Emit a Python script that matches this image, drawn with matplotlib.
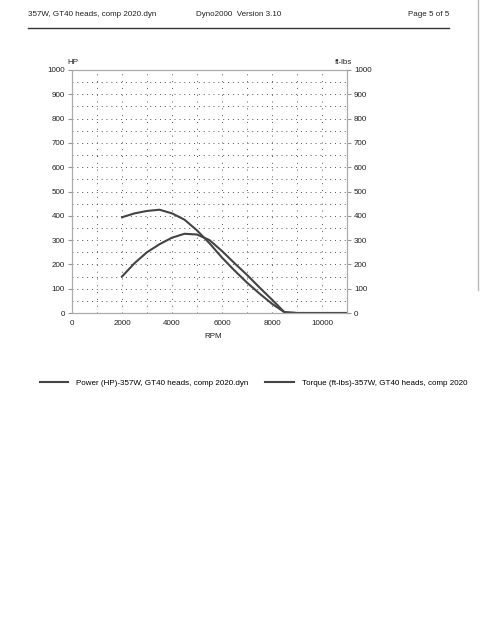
import matplotlib
matplotlib.use("Agg")
import matplotlib.pyplot as plt
from matplotlib.lines import Line2D

rpm = [2000, 2500, 3000, 3500, 4000, 4500, 5000, 5500, 6000, 6500, 7000,
       7500, 8000, 8500, 9000, 9500, 10000, 10500, 11000]
power_hp = [150, 205, 250, 283, 310, 326, 323, 300, 255, 205, 157,
            105, 55, 3, 0, 0, 0, 0, 0]
torque_ftlbs = [394, 410, 420, 425, 410, 384, 340, 287, 228, 175, 125,
                80, 38, 3, 0, 0, 0, 0, 0]

x_ticks = [0, 2000, 4000, 6000, 8000, 10000]
y_ticks = list(range(0, 1001, 100))

header_left = "357W, GT40 heads, comp 2020.dyn"
header_mid = "Dyno2000  Version 3.10"
header_right = "Page 5 of 5"
label_power = "Power (HP)-357W, GT40 heads, comp 2020.dyn"
label_torque = "Torque (ft-lbs)-357W, GT40 heads, comp 2020"

plt.rcParams['font.family'] = ['Liberation Sans', 'DejaVu Sans']
FS = 5.8
W, H = 480, 621
fig = plt.figure(figsize=(W / 100, H / 100), dpi=100)
fig.patch.set_facecolor('white')

def fx(px):
    return px / W

def fy(py):
    return 1 - py / H

# header
fig.text(fx(28), fy(14), header_left, fontsize=FS, va='center', ha='left', color='#222')
fig.text(fx(196), fy(14), header_mid, fontsize=FS, va='center', ha='left', color='#222')
fig.text(fx(449), fy(14), header_right, fontsize=FS, va='center', ha='right', color='#222')
fig.add_artist(Line2D([fx(28), fx(449)], [fy(28), fy(28)], color='#333', lw=1.0))
# scan edge
fig.add_artist(Line2D([fx(478), fx(478)], [fy(0), fy(290)], color='#bbb', lw=1.0))

ax = fig.add_axes([fx(72), fy(313), fx(347) - fx(72), fy(70) - fy(313)])
line_color = '#444444'
lp, = ax.plot(rpm, power_hp, color=line_color, lw=1.5, label=label_power)
lt, = ax.plot(rpm, torque_ftlbs, color=line_color, lw=1.5, label=label_torque)

ax.set_xlim(0, 11000)
ax.set_ylim(0, 1000)
ax.set_xticks(x_ticks)
ax.set_xticks(list(range(1000, 11000, 1000)), minor=True)
ax.set_yticks(y_ticks)
ax.set_yticks(list(range(50, 1000, 100)), minor=True)
ax.tick_params(axis='x', which='both', length=0, labelsize=FS, pad=5, labelcolor='#222')
ax.tick_params(axis='y', which='major', length=3, color='#999', labelsize=FS, pad=2, labelcolor='#222')
ax.tick_params(axis='y', which='minor', length=0)
ax.grid(True, which='both', axis='x', color='#555', lw=0.7, linestyle=(0, (1, 6)))
ax.grid(True, which='both', axis='y', color='#555', lw=0.7, linestyle=(0, (1, 4)))
for s in ax.spines.values():
    s.set_color('#aaaaaa')
    s.set_linewidth(0.8)

ax2 = ax.twinx()
ax2.set_ylim(0, 1000)
ax2.set_yticks(y_ticks)
ax2.tick_params(axis='y', length=3, color='#999', labelsize=FS, pad=2, labelcolor='#222')
for s in ax2.spines.values():
    s.set_color('#aaaaaa')
    s.set_linewidth(0.8)

fig.text(fx(73), fy(62), "HP", fontsize=FS, ha='center', va='center', color='#222')
fig.text(fx(344), fy(62), "ft-lbs", fontsize=FS, ha='center', va='center', color='#222')
fig.text(fx(213), fy(337), "RPM", fontsize=FS, ha='center', va='center', color='#222')

fig.legend(handles=[lp, lt], loc='center left', bbox_to_anchor=(fx(40), fy(383)),
           ncol=2, frameon=False, fontsize=FS, handlelength=3.5, handletextpad=1.0,
           columnspacing=2.1, borderpad=0, borderaxespad=0)

fig.savefig("out.png", dpi=100, facecolor='white')
